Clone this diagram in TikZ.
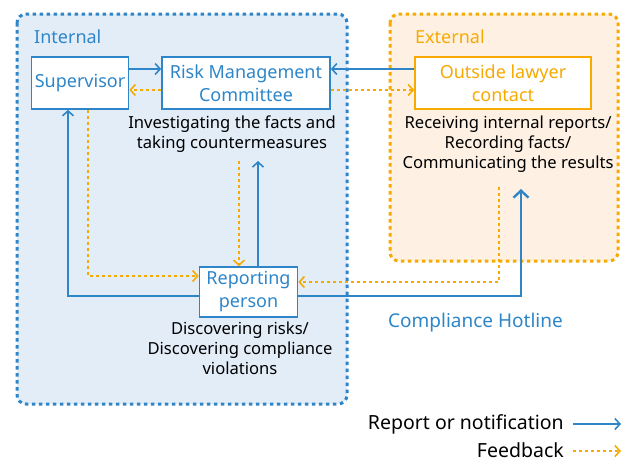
\documentclass[tikz,border=0pt]{standalone}
\usepackage{fontspec}
\setmainfont{Noto Sans}
\usetikzlibrary{arrows.meta}
\definecolor{cblue}{HTML}{2E86C8}
\definecolor{corange}{HTML}{F7AA00}
\definecolor{fillblue}{HTML}{E3EDF8}
\definecolor{fillorange}{HTML}{FEF1E3}
\begin{document}
\begin{tikzpicture}[x=1pt,y=-1pt,
  region/.style={line width=3pt, dash pattern=on 3.5pt off 3.5pt, rounded corners=9pt},
  box/.style={draw, line width=1.6pt, fill=white, align=center, inner sep=2pt, font=\fontsize{18}{23}\selectfont},
  desc/.style={align=center, text=black, font=\fontsize{16.6}{20}\selectfont, inner sep=0pt},
  rep/.style={draw=cblue, line width=1.6pt, -{Straight Barb[length=5pt,width=11pt,line width=1.6pt]}},
  fb/.style={draw=corange, line width=1.6pt, dash pattern=on 3pt off 3pt, -{Straight Barb[length=5pt,width=11pt,line width=1.6pt]}}
]
\useasboundingbox (0,0) rectangle (625,464);
% regions
\draw[region, draw=cblue, fill=fillblue] (17,14) rectangle (347,404);
\draw[region, draw=corange, fill=fillorange] (390,14) rectangle (618,261);
\node[anchor=west, text=cblue, font=\fontsize{18}{22}\selectfont, inner sep=0pt] (intl) at (34,37) {Internal};
\node[anchor=west, text=corange, font=\fontsize{18}{22}\selectfont, inner sep=0pt] (extl) at (415,37) {External};
% boxes
\node[box, draw=cblue, text=cblue, minimum width=97pt, minimum height=52pt] (sup) at (80,83) {Supervisor};
\node[box, draw=cblue, text=cblue, minimum width=168pt, minimum height=52pt] (rmc) at (246,83) {Risk Management\\Committee};
\node[box, draw=corange, text=corange, minimum width=176pt, minimum height=52pt] (law) at (503,83) {Outside lawyer\\contact};
\node[box, draw=cblue, text=cblue, minimum width=98pt, minimum height=50pt] (rep) at (248.5,292) {Reporting\\person};
% descriptions
\node[desc, anchor=north] (rmctext) at (232,116) {Investigating the facts and\\taking countermeasures};
\node[desc, anchor=north] (lawtext) at (508,116) {Receiving internal reports/\\Recording facts/\\Communicating the results};
\node[desc, anchor=north] (reptext) at (240,322) {Discovering risks/\\Discovering compliance\\violations};
\node[anchor=west, text=cblue, font=\fontsize{19}{23}\selectfont, inner sep=0pt] (hl) at (388,323) {Compliance Hotline};
% arrows top row
\draw[rep] ([yshift=14pt]sup.east) -- ([yshift=14pt]rmc.west);
\draw[fb] ([yshift=-7pt]rmc.west) -- ([yshift=-7pt]sup.east);
\draw[rep] ([yshift=14pt]law.west) -- ([yshift=14pt]rmc.east);
\draw[fb] ([yshift=-7pt]rmc.east) -- ([yshift=-7pt]law.west);
% reporting person <-> supervisor
\draw[rep] ([yshift=-4pt]rep.west) -| ([xshift=-12pt]sup.south);
\draw[fb] ([xshift=8pt]sup.south) |- ([yshift=16pt]rep.west);
% reporting person <-> RMC
\coordinate (rmcb) at (0,161);
\draw[fb] ([xshift=-9.5pt]rep.north |- rmcb) -- ([xshift=-9.5pt]rep.north);
\draw[rep] ([xshift=9.5pt]rep.north) -- ([xshift=9.5pt]rep.north |- rmcb);
% hotline
\coordinate (hltop) at (521,189);
\coordinate (fbtop) at (499,187);
\draw[rep, line width=2.6pt, -{Straight Barb[length=7pt,width=15pt,line width=2.4pt]}] ([yshift=-4pt]rep.east) -| (hltop);
\draw[fb] (fbtop) |- ([yshift=10pt]rep.east);
% legend
\node[anchor=east, text=black, font=\fontsize{19.5}{23}\selectfont, inner sep=0pt] (l1) at (564,424) {Report or notification};
\node[anchor=east, text=black, font=\fontsize{19.5}{23}\selectfont, inner sep=0pt] (l2) at (564,450) {Feedback};
\coordinate (l1e) at (621,424);
\coordinate (l2e) at (621,451);
\draw[rep] ([xshift=9pt]l1.east) -- (l1e);
\draw[fb] ([xshift=9pt]l2.east |- l2e) -- (l2e);
\end{tikzpicture}
\end{document}
